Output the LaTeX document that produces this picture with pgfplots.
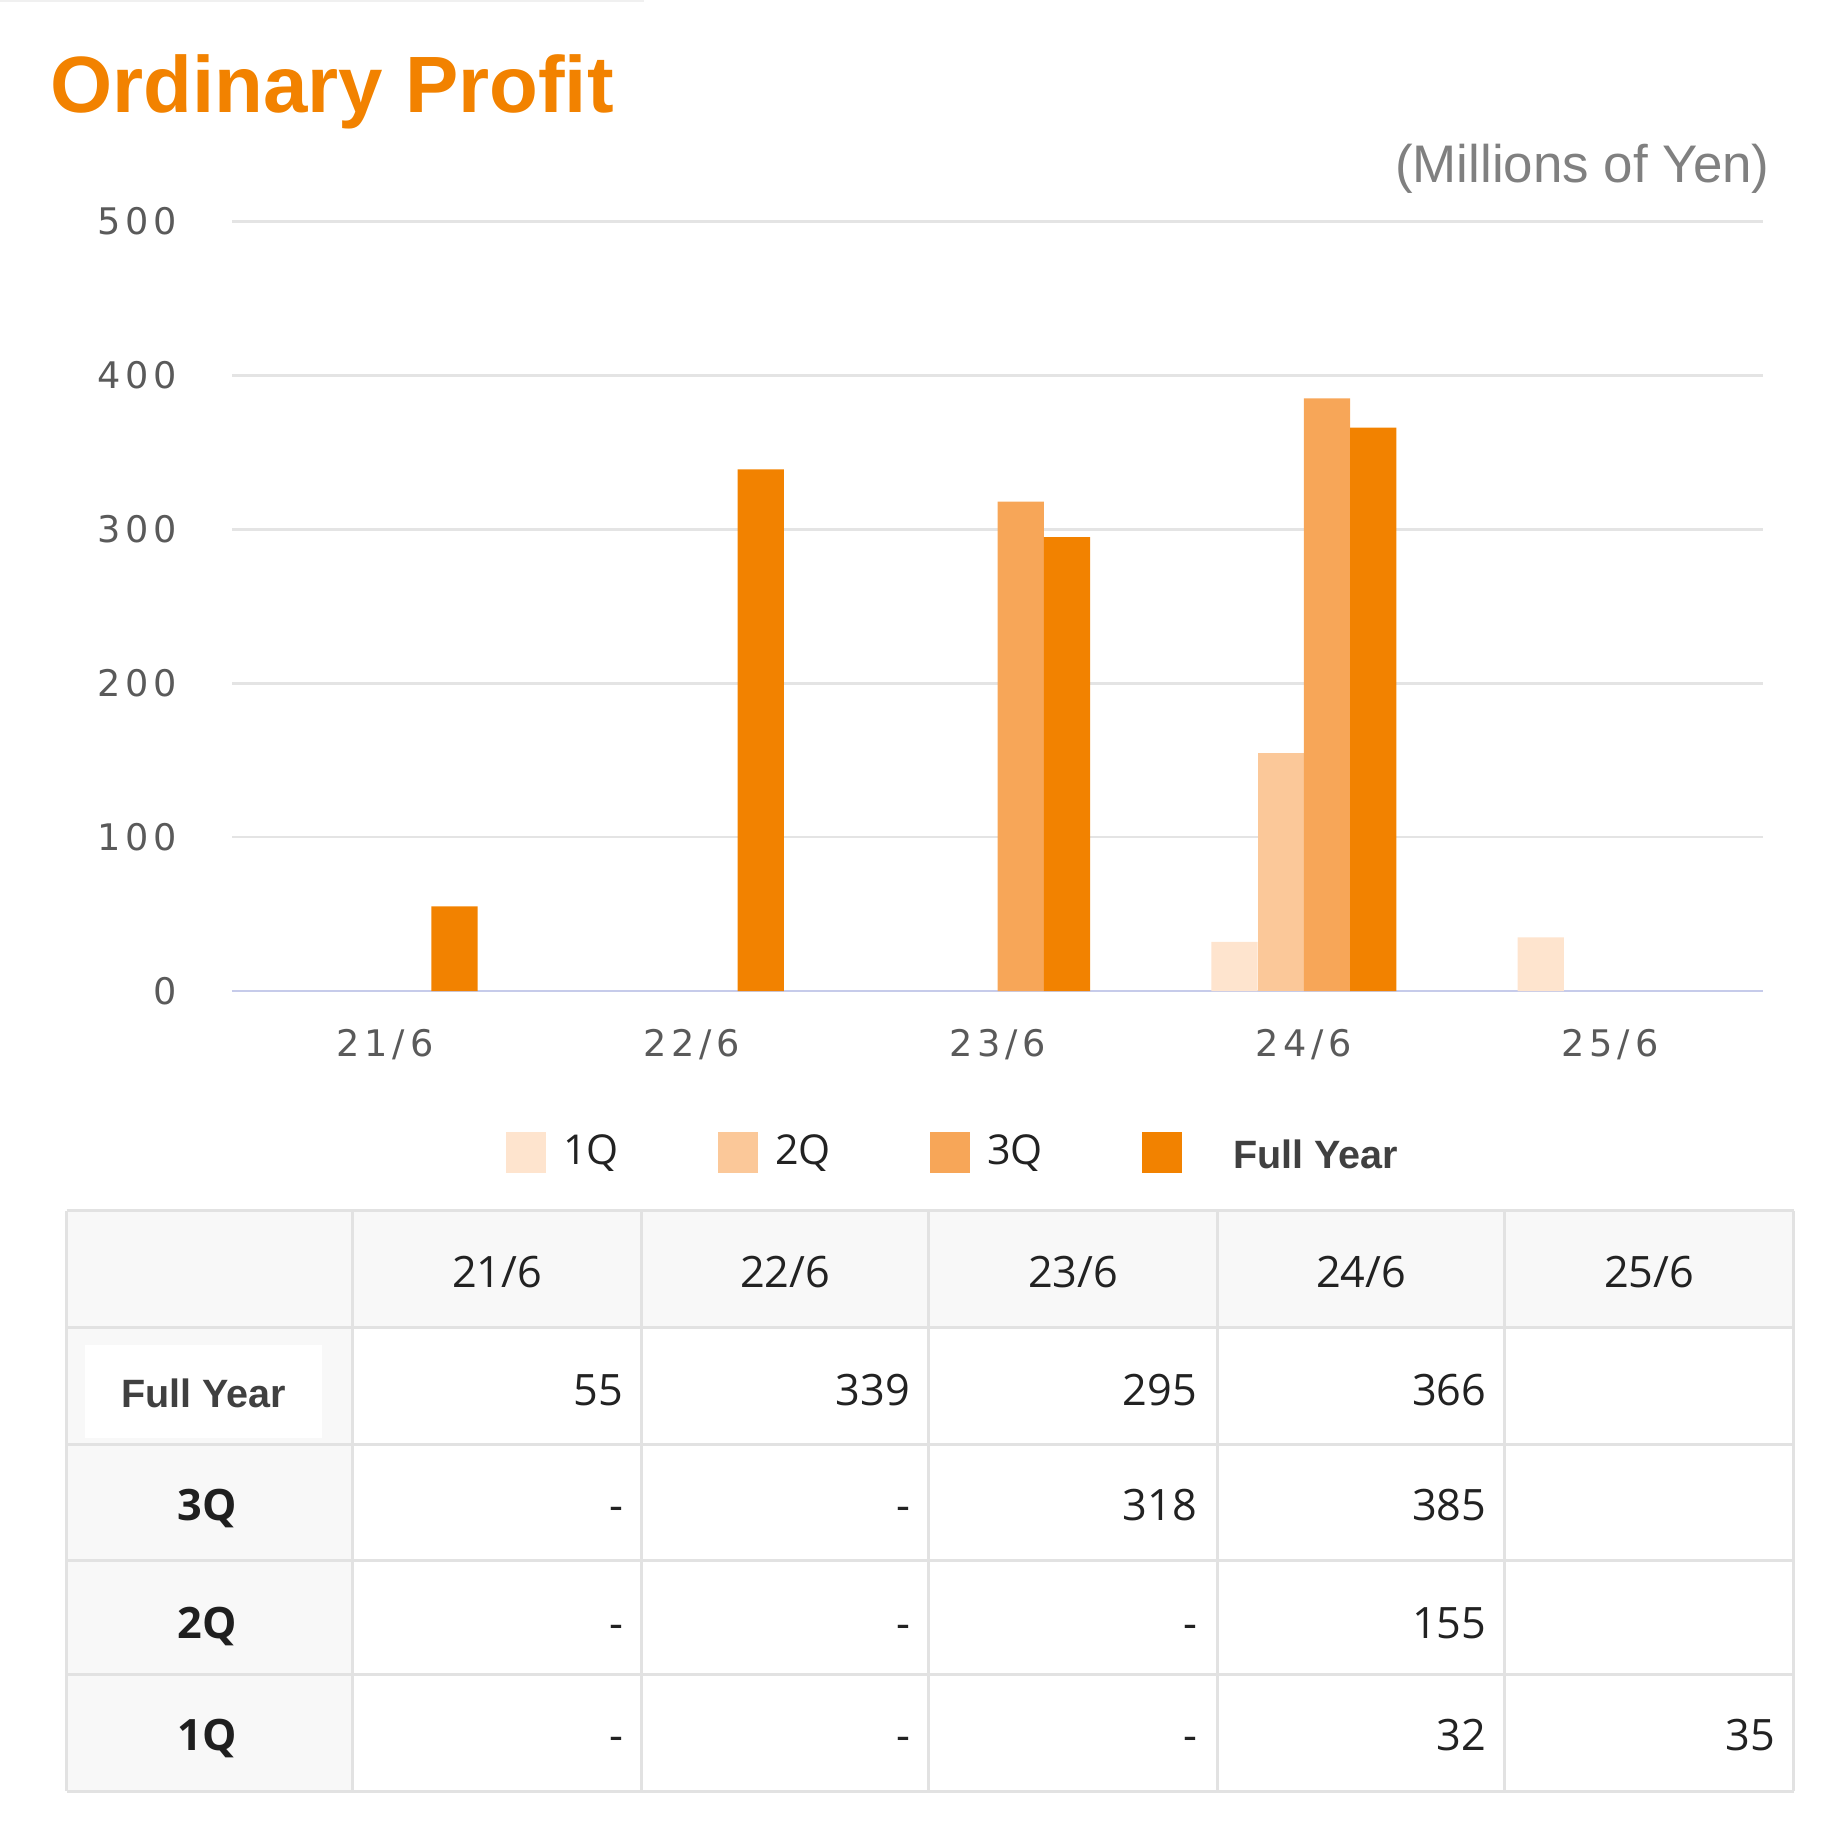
\documentclass[border=0pt]{standalone}
\usepackage{pgfplots}
\pgfplotsset{compat=1.18}
\usepackage{fontspec}
\setmainfont{Open Sans}
\newfontfamily\arialfont{Liberation Sans}
\newfontfamily\tickfont[LetterSpace=13]{DejaVu Sans}
\definecolor{q1}{HTML}{FEE4CE}
\definecolor{q2}{HTML}{FBC899}
\definecolor{q3}{HTML}{F7A658}
\definecolor{fy}{HTML}{F28200}
\definecolor{gridc}{HTML}{E4E4E4}
\definecolor{basec}{HTML}{C6CBEA}
\definecolor{tickc}{HTML}{5A5A5A}
\definecolor{txt}{HTML}{222222}
\definecolor{cellbg}{HTML}{F8F8F8}
\definecolor{tline}{HTML}{E2E2E2}
\definecolor{unitc}{HTML}{808080}
\pgfplotsset{sqlegend/.style={legend image code/.code={\fill[##1] (0cm,-0.175cm) rectangle (0.34cm,0.175cm);}}}
\newcommand\tfont{\fontsize{10.5pt}{12.5pt}\selectfont}
\newcommand\afont{\arialfont\bfseries\fontsize{9.6pt}{11pt}\selectfont}
\begin{document}
\begin{tikzpicture}
\path[use as bounding box] (0,0) rectangle (15.68cm,-15.68cm);
\begin{scope}[x=0.01cm,y=-0.01cm]
\draw[line width=0.5pt, color=black!6] (0,1) -- (550,1);
\node[anchor=base west, inner sep=0, text=fy, font=\arialfont\bfseries\fontsize{19.4pt}{22pt}\selectfont] at (42,96) {Ordinary Profit};
\node[anchor=base east, inner sep=0, text=unitc, font=\arialfont\fontsize{12.85pt}{15pt}\selectfont] at (1512,156) {(Millions of Yen)};
% table
\fill[cellbg] (57,1034) rectangle (1532,1134);
\fill[cellbg] (57,1134) rectangle (301,1530);
\fill[white] (73,1149) rectangle (275,1228);
\foreach \xx in {57,301,548,793,1040,1285,1532} \draw[tline, line width=0.71pt] (\xx,1034) -- (\xx,1530);
\foreach \yy in {1034,1134,1234,1333,1430,1530} \draw[tline, line width=0.71pt] (57,\yy) -- (1532,\yy);
\begin{scope}[every node/.style={inner sep=0, text=txt, font=\tfont}]
\node[anchor=base] at (424.5,1100) {21/6};
\node[anchor=base] at (670.5,1100) {22/6};
\node[anchor=base] at (916.5,1100) {23/6};
\node[anchor=base] at (1162.5,1100) {24/6};
\node[anchor=base] at (1408.5,1100) {25/6};
\node[anchor=base, font=\afont, text=black!75] at (174,1202) {Full Year};
\node[anchor=base, font=\tfont\bfseries, text=black!88] at (177,1299) {3Q};
\node[anchor=base, font=\tfont\bfseries, text=black!88] at (177,1399) {2Q};
\node[anchor=base, font=\tfont\bfseries, text=black!88] at (177,1495) {1Q};
% Full Year row
\node[anchor=base east] at (533,1200) {55};
\node[anchor=base east] at (778,1200) {339};
\node[anchor=base east] at (1023,1200) {295};
\node[anchor=base east] at (1270,1200) {366};
% 3Q row
\node[anchor=base east] at (533,1299) {-};
\node[anchor=base east] at (778,1299) {-};
\node[anchor=base east] at (1023,1299) {318};
\node[anchor=base east] at (1270,1299) {385};
% 2Q row
\node[anchor=base east] at (533,1399) {-};
\node[anchor=base east] at (778,1399) {-};
\node[anchor=base east] at (1023,1399) {-};
\node[anchor=base east] at (1270,1399) {155};
% 1Q row
\node[anchor=base east] at (533,1495) {-};
\node[anchor=base east] at (778,1495) {-};
\node[anchor=base east] at (1023,1495) {-};
\node[anchor=base east] at (1270,1495) {32};
\node[anchor=base east] at (1517,1495) {35};
\end{scope}
\end{scope}
\begin{axis}[
  at={(1.98cm,-8.46cm)}, anchor=south west,
  scale only axis, width=13.07cm, height=6.57cm,
  xmin=-0.5, xmax=4.5, ymin=0, ymax=500,
  xtick={0,1,2,3,4}, xticklabels={21/6,22/6,23/6,24/6,25/6},
  ytick={0,100,200,300,400,500},
  axis lines*=left,
  y axis line style={draw=none},
  x axis line style={draw=basec, line width=0.65pt},
  major tick length=0pt,
  ymajorgrids, grid style={gridc, line width=0.6pt},
  /pgf/number format/assume math mode=true,
  ticklabel style={font=\tickfont\fontsize{8.9pt}{10.5pt}\selectfont, text=tickc, inner sep=0pt},
  yticklabel style={anchor=east, xshift=-0.46cm},
  xticklabel style={anchor=center, yshift=-0.46cm},
  legend columns=4,
  legend style={draw=none, fill=none, inner sep=0pt, at={(0.1783,-0.210)}, anchor=west,
    nodes={inner sep=0pt, text=txt, font=\fontsize{10pt}{12pt}\selectfont},
    /tikz/every odd column/.append style={column sep=0.15cm}},
]
\addplot[ybar, fill=q1, draw=none, bar width=0.151, bar shift=-0.2265, sqlegend] coordinates {(3,32) (4,35)};
\addlegendentry{\makebox[1.32cm][l]{1Q}}
\addplot[ybar, fill=q2, draw=none, bar width=0.151, bar shift=-0.0755, sqlegend] coordinates {(3,155)};
\addlegendentry{\makebox[1.32cm][l]{2Q}}
\addplot[ybar, fill=q3, draw=none, bar width=0.151, bar shift=0.0755, sqlegend] coordinates {(2,318) (3,385)};
\addlegendentry{\makebox[1.32cm][l]{3Q}}
\addplot[ybar, fill=fy, draw=none, bar width=0.151, bar shift=0.2265, sqlegend] coordinates {(0,55) (1,339) (2,295) (3,366)};
\addlegendentry{\hspace*{0.29cm}\raisebox{-0.07cm}{\afont\color{black!75}Full Year}}
\end{axis}
\end{tikzpicture}
\end{document}
